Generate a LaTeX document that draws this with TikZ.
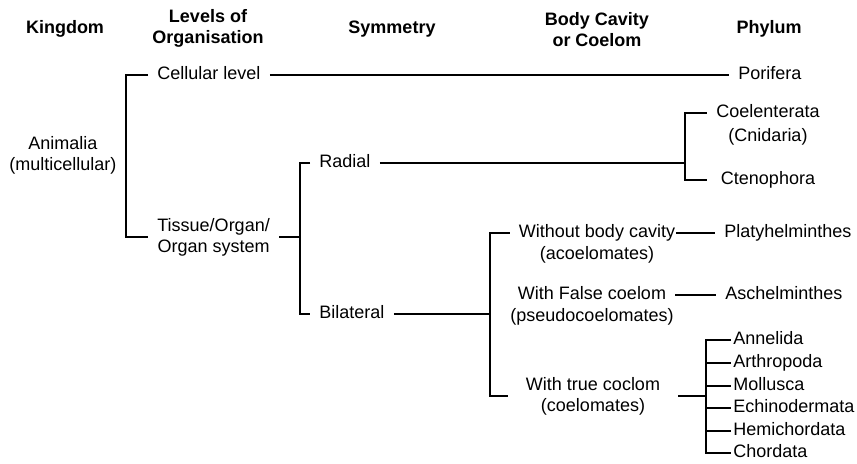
\documentclass[tikz,border=0pt]{standalone}
\usepackage{fontspec}
\setmainfont{Liberation Sans}
\usetikzlibrary{positioning,calc}
\tikzset{
    head/.style={
        align=center,
        font=\bfseries\fontsize{9pt}{10.5pt}\selectfont
    },
    lbl/.style={
        inner xsep=4.5pt,
        inner ysep=0.75pt,
        text height=6.75pt,
        text depth=2.25pt,
        font=\fontsize{9pt}{10.5pt}\selectfont
    },
    multi/.style={
        align=center,
        inner xsep=4.5pt,
        inner ysep=0.75pt,
        font=\fontsize{9pt}{10.5pt}\selectfont
    },
    leaf/.style={
        lbl,
        inner xsep=1pt,
        anchor=west
    },
    link/.style={
        line width=0.7pt
    }
}

\begin{document}
\begin{tikzpicture}[x=0.5pt, y=-0.5pt, node distance=0pt]
\useasboundingbox (0,0) rectangle (857,464);

% headings
\node[head] (hking) at (65,29) {Kingdom};
\node[head] (hlevel) at (208,28) {Levels of\\Organisation};
\node[head] (hsym) at (392,29) {Symmetry};
\node[head] (hcav) at (597,30) {Body Cavity\\or Coelom};
\node[head] (hphyl) at (769,29) {Phylum};

% kingdom and levels
\node[multi] (animal) at (63,155) {Animalia\\(multicellular)};
\node[lbl, anchor=west] (cell) at (148,75) {Cellular level};
\node[multi, anchor=west] (tissue) at (148,237) {Tissue/Organ/\\Organ system};

% symmetry
\node[lbl, anchor=west] (radial) at (310,163) {Radial};
\node[lbl, anchor=west] (bilat) at (310,314) {Bilateral};

% body cavity
\node[lbl] (nobody) at (597,233) {Without body cavity};
\node[lbl, below=of nobody] (acoel) {(acoelomates)};
\node[lbl] (falsec) at (592,295) {With False coelom};
\node[lbl, below=of falsec] (pseudo) {(pseudocoelomates)};
\node[multi, minimum width=85pt] (truec) at (593,396) {With true coclom\\(coelomates)};

% phyla
\node[lbl, anchor=west] (porif) at (729,75) {Porifera};
\node[lbl, minimum width=61pt] (coel) at (768,113) {Coelenterata};
\node[lbl, below=1pt of coel] (cnid) {(Cnidaria)};
\node[lbl, minimum width=61pt] (cteno) at (768,180) {Ctenophora};
\node[lbl, anchor=west] (platy) at (715,233) {Platyhelminthes};
\node[lbl, anchor=west] (asch) at (716,295) {Aschelminthes};
\node[leaf] (annel) at (731,340) {Annelida};
\node[leaf] (arthro) at (731,363) {Arthropoda};
\node[leaf] (mollu) at (731,386) {Mollusca};
\node[leaf] (echino) at (731,408) {Echinodermata};
\node[leaf] (hemi) at (731,431) {Hemichordata};
\node[leaf] (chord) at (731,453) {Chordata};

% forks
\coordinate (kfork) at (126,155);
\coordinate (sfork) at ($(tissue.east)+(21,0)$);
\coordinate (rfork) at (685,163);
\coordinate (bfork) at (490,314);
\coordinate (tfork) at (706,396);

% connectors
\draw[link] (cell.west) -| (kfork) |- (tissue.west);
\draw[link] (cell.east) -- (porif.west);
\draw[link] (tissue.east) -- (sfork);
\draw[link] (radial.west) -| (sfork) |- (bilat.west);
\draw[link] (radial.east) -- (rfork);
\draw[link] (coel.west) -| (rfork) |- (cteno.west);
\draw[link] (bilat.east) -- (bfork);
\draw[link] (nobody.west) -| (bfork) |- (truec.west);
\draw[link] ([xshift=-4pt]nobody.east) -- (platy.west);
\draw[link] (falsec.east) -- (asch.west);
\draw[link] (truec.east) -- (tfork);
\draw[link] (annel.west) -| (tfork) |- (chord.west);
\draw[link] (tfork |- arthro.west) -- (arthro.west);
\draw[link] (tfork |- mollu.west) -- (mollu.west);
\draw[link] (tfork |- echino.west) -- (echino.west);
\draw[link] (tfork |- hemi.west) -- (hemi.west);

\end{tikzpicture}
\end{document}
